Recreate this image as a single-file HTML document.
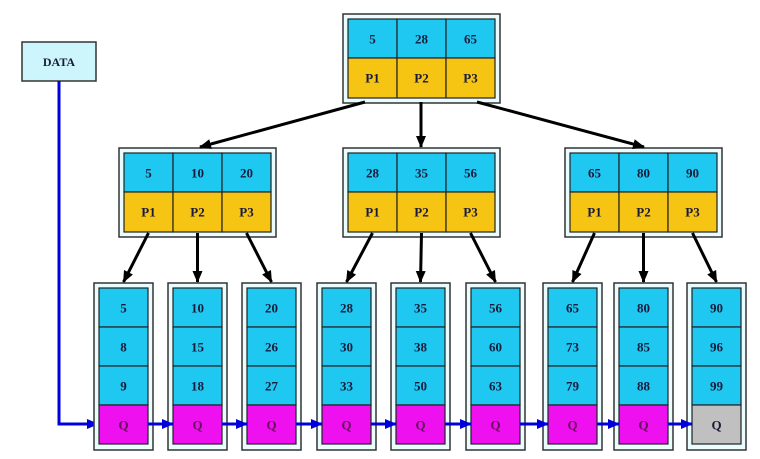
<!DOCTYPE html>
<html><head><meta charset="utf-8"><style>
html,body{margin:0;padding:0;background:#fff;width:760px;height:459px;overflow:hidden}
text{font-family:"Liberation Serif",serif;font-weight:bold;font-size:13px;fill:#1a1a3a;text-anchor:middle;dominant-baseline:central}
.o{fill:#eafcfd;stroke:#333;stroke-width:1.5}
.b{fill:#1ec8f0;stroke:#222;stroke-width:1.2}
.y{fill:#f6c412;stroke:#222;stroke-width:1.2}
.m{fill:#ee10ee;stroke:#222;stroke-width:1.2}
.g{fill:#c0c0c0;stroke:#222;stroke-width:1.2}
.q{fill:#6a1060}
.k{stroke:#000;stroke-width:3;fill:none}
.bl{stroke:#0000dd;stroke-width:3;fill:none}
</style></head><body>
<svg width="760" height="459" viewBox="0 0 760 459" xmlns="http://www.w3.org/2000/svg">
<defs>
<marker id="ak" markerWidth="12" markerHeight="12" refX="11" refY="6" orient="auto" markerUnits="userSpaceOnUse"><path d="M0,1 L12,6 L0,11 z" fill="#000"/></marker>
<marker id="ab" markerWidth="12" markerHeight="12" refX="11" refY="6" orient="auto" markerUnits="userSpaceOnUse"><path d="M0,1 L12,6 L0,11 z" fill="#0000dd"/></marker>
</defs>
<!-- DATA -->
<rect x="22" y="42" width="74" height="39" fill="#ccf6fb" stroke="#333" stroke-width="1.5"/>
<text x="59" y="62" style="font-size:12px">DATA</text>
<polyline class="bl" points="59,81 59,424 98,424" marker-end="url(#ab)"/>

<!-- root -->
<rect class="o" x="343" y="14" width="157" height="89"/>
<rect class="b" x="348" y="19" width="49" height="39"/><rect class="b" x="397" y="19" width="49" height="39"/><rect class="b" x="446" y="19" width="49" height="39"/>
<rect class="y" x="348" y="58" width="49" height="40"/><rect class="y" x="397" y="58" width="49" height="40"/><rect class="y" x="446" y="58" width="49" height="40"/>
<text x="372.5" y="39">5</text><text x="421.5" y="39">28</text><text x="470.5" y="39">65</text>
<text x="372.5" y="78">P1</text><text x="421.5" y="78">P2</text><text x="470.5" y="78">P3</text>

<!-- left -->
<rect class="o" x="119" y="148" width="157" height="89"/>
<rect class="b" x="124" y="153" width="49" height="39"/><rect class="b" x="173" y="153" width="49" height="39"/><rect class="b" x="222" y="153" width="49" height="39"/>
<rect class="y" x="124" y="192" width="49" height="40"/><rect class="y" x="173" y="192" width="49" height="40"/><rect class="y" x="222" y="192" width="49" height="40"/>
<text x="148.5" y="173">5</text><text x="197.5" y="173">10</text><text x="246.5" y="173">20</text>
<text x="148.5" y="212">P1</text><text x="197.5" y="212">P2</text><text x="246.5" y="212">P3</text>

<!-- mid -->
<rect class="o" x="343" y="148" width="157" height="89"/>
<rect class="b" x="348" y="153" width="49" height="39"/><rect class="b" x="397" y="153" width="49" height="39"/><rect class="b" x="446" y="153" width="49" height="39"/>
<rect class="y" x="348" y="192" width="49" height="40"/><rect class="y" x="397" y="192" width="49" height="40"/><rect class="y" x="446" y="192" width="49" height="40"/>
<text x="372.5" y="173">28</text><text x="421.5" y="173">35</text><text x="470.5" y="173">56</text>
<text x="372.5" y="212">P1</text><text x="421.5" y="212">P2</text><text x="470.5" y="212">P3</text>

<!-- right -->
<rect class="o" x="565" y="148" width="157" height="89"/>
<rect class="b" x="570" y="153" width="49" height="39"/><rect class="b" x="619" y="153" width="49" height="39"/><rect class="b" x="668" y="153" width="49" height="39"/>
<rect class="y" x="570" y="192" width="49" height="40"/><rect class="y" x="619" y="192" width="49" height="40"/><rect class="y" x="668" y="192" width="49" height="40"/>
<text x="594.5" y="173">65</text><text x="643.5" y="173">80</text><text x="692.5" y="173">90</text>
<text x="594.5" y="212">P1</text><text x="643.5" y="212">P2</text><text x="692.5" y="212">P3</text>

<!-- root arrows -->
<line class="k" x1="365" y1="102" x2="200" y2="147" marker-end="url(#ak)"/>
<line class="k" x1="421" y1="102" x2="421" y2="147" marker-end="url(#ak)"/>
<line class="k" x1="477" y1="102" x2="644" y2="147" marker-end="url(#ak)"/>

<!-- level2 arrows -->
<line class="k" x1="148.5" y1="233" x2="123.5" y2="282" marker-end="url(#ak)"/>
<line class="k" x1="197.5" y1="233" x2="197.5" y2="282" marker-end="url(#ak)"/>
<line class="k" x1="246.5" y1="233" x2="271.5" y2="282" marker-end="url(#ak)"/>
<line class="k" x1="372.5" y1="233" x2="346.5" y2="282" marker-end="url(#ak)"/>
<line class="k" x1="421.5" y1="233" x2="420.5" y2="282" marker-end="url(#ak)"/>
<line class="k" x1="470.5" y1="233" x2="495.5" y2="282" marker-end="url(#ak)"/>
<line class="k" x1="594.5" y1="233" x2="572.5" y2="282" marker-end="url(#ak)"/>
<line class="k" x1="643.5" y1="233" x2="643.5" y2="282" marker-end="url(#ak)"/>
<line class="k" x1="692.5" y1="233" x2="716.5" y2="282" marker-end="url(#ak)"/>

<!-- leaves -->
<g>
<rect class="o" x="94" y="283" width="59" height="167"/>
<rect class="b" x="99" y="288" width="49" height="39"/><rect class="b" x="99" y="327" width="49" height="39"/><rect class="b" x="99" y="366" width="49" height="39"/><rect class="m" x="99" y="405" width="49" height="39"/>
<text x="123.5" y="308">5</text><text x="123.5" y="347">8</text><text x="123.5" y="386">9</text><text class="q" x="123.5" y="425">Q</text>
</g>
<g>
<rect class="o" x="168" y="283" width="59" height="167"/>
<rect class="b" x="173" y="288" width="49" height="39"/><rect class="b" x="173" y="327" width="49" height="39"/><rect class="b" x="173" y="366" width="49" height="39"/><rect class="m" x="173" y="405" width="49" height="39"/>
<text x="197.5" y="308">10</text><text x="197.5" y="347">15</text><text x="197.5" y="386">18</text><text class="q" x="197.5" y="425">Q</text>
</g>
<g>
<rect class="o" x="242" y="283" width="59" height="167"/>
<rect class="b" x="247" y="288" width="49" height="39"/><rect class="b" x="247" y="327" width="49" height="39"/><rect class="b" x="247" y="366" width="49" height="39"/><rect class="m" x="247" y="405" width="49" height="39"/>
<text x="271.5" y="308">20</text><text x="271.5" y="347">26</text><text x="271.5" y="386">27</text><text class="q" x="271.5" y="425">Q</text>
</g>
<g>
<rect class="o" x="317" y="283" width="59" height="167"/>
<rect class="b" x="322" y="288" width="49" height="39"/><rect class="b" x="322" y="327" width="49" height="39"/><rect class="b" x="322" y="366" width="49" height="39"/><rect class="m" x="322" y="405" width="49" height="39"/>
<text x="346.5" y="308">28</text><text x="346.5" y="347">30</text><text x="346.5" y="386">33</text><text class="q" x="346.5" y="425">Q</text>
</g>
<g>
<rect class="o" x="391" y="283" width="59" height="167"/>
<rect class="b" x="396" y="288" width="49" height="39"/><rect class="b" x="396" y="327" width="49" height="39"/><rect class="b" x="396" y="366" width="49" height="39"/><rect class="m" x="396" y="405" width="49" height="39"/>
<text x="420.5" y="308">35</text><text x="420.5" y="347">38</text><text x="420.5" y="386">50</text><text class="q" x="420.5" y="425">Q</text>
</g>
<g>
<rect class="o" x="466" y="283" width="59" height="167"/>
<rect class="b" x="471" y="288" width="49" height="39"/><rect class="b" x="471" y="327" width="49" height="39"/><rect class="b" x="471" y="366" width="49" height="39"/><rect class="m" x="471" y="405" width="49" height="39"/>
<text x="495.5" y="308">56</text><text x="495.5" y="347">60</text><text x="495.5" y="386">63</text><text class="q" x="495.5" y="425">Q</text>
</g>
<g>
<rect class="o" x="543" y="283" width="59" height="167"/>
<rect class="b" x="548" y="288" width="49" height="39"/><rect class="b" x="548" y="327" width="49" height="39"/><rect class="b" x="548" y="366" width="49" height="39"/><rect class="m" x="548" y="405" width="49" height="39"/>
<text x="572.5" y="308">65</text><text x="572.5" y="347">73</text><text x="572.5" y="386">79</text><text class="q" x="572.5" y="425">Q</text>
</g>
<g>
<rect class="o" x="614" y="283" width="59" height="167"/>
<rect class="b" x="619" y="288" width="49" height="39"/><rect class="b" x="619" y="327" width="49" height="39"/><rect class="b" x="619" y="366" width="49" height="39"/><rect class="m" x="619" y="405" width="49" height="39"/>
<text x="643.5" y="308">80</text><text x="643.5" y="347">85</text><text x="643.5" y="386">88</text><text class="q" x="643.5" y="425">Q</text>
</g>
<g>
<rect class="o" x="687" y="283" width="59" height="167"/>
<rect class="b" x="692" y="288" width="49" height="39"/><rect class="b" x="692" y="327" width="49" height="39"/><rect class="b" x="692" y="366" width="49" height="39"/><rect class="g" x="692" y="405" width="49" height="39"/>
<text x="716.5" y="308">90</text><text x="716.5" y="347">96</text><text x="716.5" y="386">99</text><text x="716.5" y="425">Q</text>
</g>

<!-- blue links -->
<line class="bl" x1="148" y1="424" x2="173" y2="424" marker-end="url(#ab)"/>
<line class="bl" x1="222" y1="424" x2="247" y2="424" marker-end="url(#ab)"/>
<line class="bl" x1="296" y1="424" x2="322" y2="424" marker-end="url(#ab)"/>
<line class="bl" x1="371" y1="424" x2="396" y2="424" marker-end="url(#ab)"/>
<line class="bl" x1="445" y1="424" x2="471" y2="424" marker-end="url(#ab)"/>
<line class="bl" x1="520" y1="424" x2="548" y2="424" marker-end="url(#ab)"/>
<line class="bl" x1="597" y1="424" x2="619" y2="424" marker-end="url(#ab)"/>
<line class="bl" x1="668" y1="424" x2="692" y2="424" marker-end="url(#ab)"/>
</svg>
</body></html>
